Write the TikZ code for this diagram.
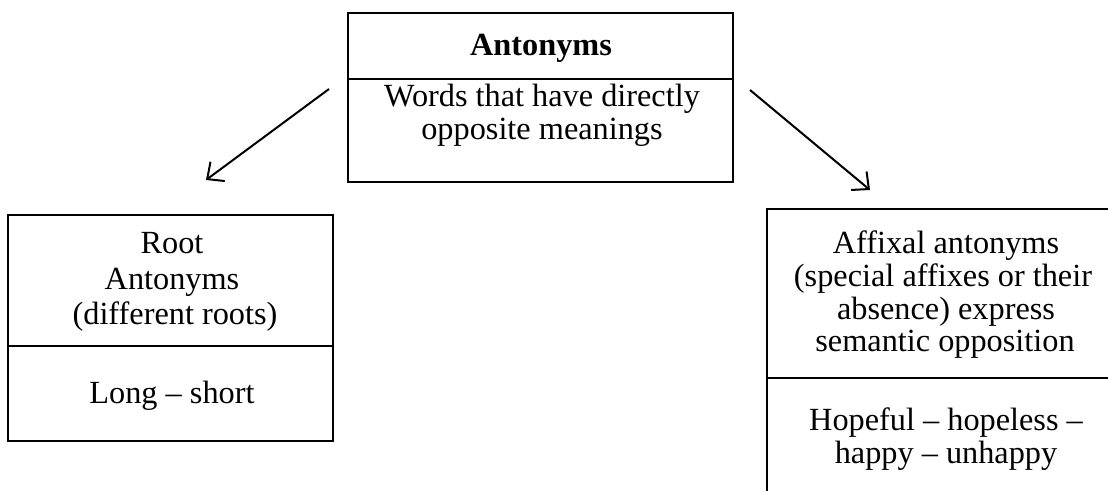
\documentclass[tikz,border=0pt]{standalone}
\usepackage{fontspec}
\setmainfont{Liberation Serif}
\usetikzlibrary{arrows.meta}
\begin{document}
\begin{tikzpicture}[x=1pt,y=-1pt,
  frame/.style={draw, line width=2pt, inner sep=0pt},
  rule/.style={line width=2pt},
  txt/.style={anchor=base, inner sep=0pt, font=\fontsize{32.3}{34}\selectfont},
  link/.style={line width=2pt, -{Straight Barb[length=13pt,width=24pt,line width=2pt]}}]
\clip (0,0) rectangle (1108,490);

% top box
\node[frame, minimum width=385pt, minimum height=169pt] (top) at (540.5,97) {};
\draw[rule] (top.west |- 0,79) -- (top.east |- 0,79);
\node[txt, font=\fontsize{32.3}{34}\selectfont\bfseries] (t1) at (541,55) {Antonyms};
\node[txt] (t2) at (542,106) {Words that have directly};
\node[txt] (t3) at (542,139) {opposite meanings};

% left box
\node[frame, minimum width=325pt, minimum height=226pt] (root) at (170.5,328) {};
\draw[rule] (root.west |- 0,346) -- (root.east |- 0,346);
\node[txt] (r1) at (172,253) {Root};
\node[txt] (r2) at (172,289) {Antonyms};
\node[txt] (r3) at (175,324) {(different roots)};
\node[txt] (r4) at (172,403) {Long -- short};

% right box
\node[frame, minimum width=360pt, minimum height=300pt] (affix) at (947,359) {};
\draw[rule] (affix.west |- 0,378) -- (affix.east |- 0,378);
\node[txt] (a1) at (946,253) {Affixal antonyms};
\node[txt] (a2) at (943,286) {(special affixes or their};
\node[txt] (a3) at (946,319) {absence) express};
\node[txt] (a4) at (945,351) {semantic opposition};
\node[txt] (a5) at (946,430) {Hopeful -- hopeless --};
\node[txt] (a6) at (946,463) {happy -- unhappy};

% arrows
\coordinate (ls) at (329,89);
\coordinate (le) at (206,180);
\coordinate (rs) at (750,90);
\coordinate (re) at (870,190);
\draw[link] (ls) -- (le);
\draw[link] (rs) -- (re);
\end{tikzpicture}
\end{document}
